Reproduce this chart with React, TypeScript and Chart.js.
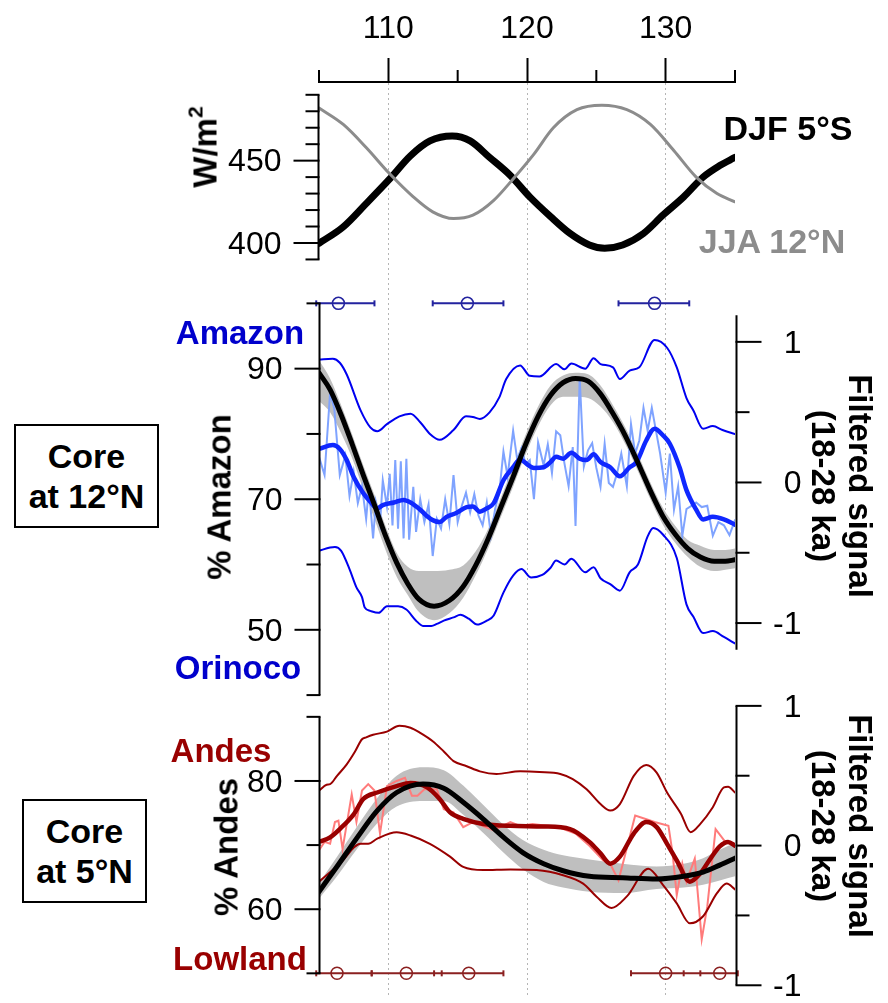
import React, { useEffect, useRef } from 'react';
import { Chart, registerables } from 'chart.js';
Chart.register(...registerables);

const FONT = '"Liberation Sans", Arial, Helvetica, sans-serif';

// ---------- x axis (age, ka) ----------
const xTickValues = [105, 110, 115, 120, 125, 130, 135];
const xLabelValues = [110, 120, 130];
const xMinorTicks = [105, 115, 125, 135];

// ---------- Panel 1: insolation (W/m2) ----------
const djfAge = [105, 106.75, 108.4, 110.1, 111.6, 113.0, 114.6, 115.9, 117.3, 118.8, 120.2, 121.7, 123.1, 124.5, 125.6, 126.9, 128.4, 129.8, 131.3, 132.7, 133.9, 135];
const djfWm2 = [399.8, 409.8, 423.9, 438.9, 453, 462, 465, 462, 452, 441, 428, 416, 405.8, 398.8, 396.8, 398.8, 405.8, 416.9, 428, 440, 447, 452];
const jjaAge = [105, 106.75, 108.4, 110.1, 111.8, 113.2, 114.7, 116.1, 117.6, 119.0, 120.5, 121.9, 123.6, 125.4, 127.2, 128.9, 130.6, 132.2, 133.7, 135];
const jjaWm2 = [482, 472, 458, 442, 428, 418.9, 414.8, 416.9, 425.9, 438.9, 454, 470, 481, 483.7, 481, 472, 456, 440, 430, 425];
const insTicks = [390, 400, 410, 420, 430, 440, 450, 460, 470, 480, 490];
const insLabels = [400, 450];

// ---------- Panel 2: core at 12N (% Amazon) ----------
const amUpAge = [105.0, 106.0, 106.5, 107.0, 108.0, 108.7, 109.2, 109.9, 110.8, 111.6, 112.3, 113.0, 113.7, 114.7, 115.6, 116.1, 116.6, 117.3, 118.0, 118.5, 119.5, 120.2, 120.9, 122.1, 122.7, 123.2, 124.2, 124.8, 125.3, 126.2, 126.7, 127.4, 128.1, 129.2, 130.1, 130.8, 131.5, 132.0, 132.7, 133.4, 134.1, 135.0];
const amUpPct = [91.4, 91.5, 90.9, 89.1, 83.6, 81.0, 80.4, 81.5, 82.7, 83.1, 81.8, 80.0, 79.1, 80.6, 82.7, 82.6, 82.3, 83.3, 85.6, 88.4, 90.5, 88.9, 88.8, 90.7, 89.9, 90.8, 90.0, 91.6, 90.7, 90.2, 88.4, 89.7, 90.2, 94.4, 93.2, 90.2, 85.5, 83.6, 80.8, 81.2, 80.6, 80.0];
const amLoAge = [105.0, 105.8, 106.15, 106.6, 107.2, 107.7, 108.1, 108.3, 108.7, 109.3, 109.9, 110.7, 111.3, 112.0, 112.5, 113.1, 113.5, 114.0, 114.7, 115.2, 115.8, 116.4, 117.1, 117.6, 118.3, 119.0, 119.6, 120.3, 121.1, 121.7, 122.1, 122.7, 123.2, 124.2, 124.8, 125.3, 126.0, 126.7, 127.4, 128.0, 128.7, 129.1, 129.8, 130.8, 131.5, 132.0, 132.7, 133.4, 134.2, 135.0];
const amLoPct = [62.1, 62.6, 62.7, 62.1, 59.3, 56.5, 55.0, 53.4, 52.9, 52.6, 53.6, 53.6, 53.1, 51.4, 50.6, 50.6, 50.9, 51.4, 51.9, 52.3, 51.7, 50.8, 51.4, 52.2, 55.7, 58.3, 59.3, 58.0, 58.4, 59.5, 60.6, 60.0, 60.9, 58.8, 59.6, 57.9, 57.0, 56.0, 58.8, 60.0, 64.3, 65.6, 64.6, 61.0, 53.9, 52.0, 49.5, 49.8, 48.9, 47.9];
const amMidAge = [105.0, 106.0, 106.5, 107.0, 107.5, 108.2, 108.7, 109.2, 109.6, 110.4, 111.1, 111.6, 112.3, 112.8, 113.2, 113.7, 114.2, 114.9, 115.65, 116.1, 116.6, 117.1, 117.6, 118.3, 119.0, 119.5, 120.1, 120.5, 121.2, 121.7, 122.1, 122.6, 123.2, 123.8, 124.3, 124.8, 125.3, 126.0, 126.7, 127.4, 127.9, 128.6, 129.2, 129.8, 130.3, 131.0, 131.5, 132.2, 132.7, 133.4, 134.2, 135.0];
const amMidPct = [77.7, 78.3, 77.7, 76.0, 73.4, 70.9, 69.6, 68.6, 69.1, 69.5, 69.9, 69.5, 68.4, 67.4, 66.8, 66.5, 67.3, 67.9, 68.8, 68.9, 68.1, 68.6, 69.4, 72.9, 74.9, 76.1, 75.2, 74.8, 74.9, 75.7, 76.5, 76.2, 77.1, 76.2, 76.0, 76.9, 75.7, 74.9, 73.5, 74.9, 75.7, 79.0, 80.8, 79.8, 78.5, 74.9, 71.4, 68.4, 66.9, 67.3, 66.9, 66.1];
const amRawAge = [105.0, 105.4, 105.8, 106.1, 106.5, 106.9, 107.2, 107.5, 107.8, 108.1, 108.4, 108.6, 108.9, 109.1, 109.4, 109.6, 109.9, 110.1, 110.3, 110.5, 110.7, 110.9, 111.1, 111.3, 111.5, 111.8, 112.0, 112.3, 112.6, 112.9, 113.2, 113.5, 113.8, 114.1, 114.4, 114.7, 115.0, 115.3, 115.6, 115.9, 116.2, 116.5, 116.8, 117.1, 117.4, 117.7, 118.0, 118.3, 118.6, 119.0, 119.3, 119.6, 119.9, 120.2, 120.5, 120.8, 121.2, 121.5, 121.8, 122.1, 122.4, 122.7, 123.0, 123.3, 123.5, 123.8, 124.1, 124.4, 124.7, 125.0, 125.3, 125.6, 125.9, 126.2, 126.5, 126.8, 127.2, 127.5, 127.8, 128.1, 128.4, 128.7, 129.0, 129.3, 129.6, 130.0, 130.3, 130.6, 130.9, 131.2, 131.5, 131.8, 132.2, 132.6, 133.0, 133.4, 133.8, 134.2, 134.6, 135.0];
const amRawPct = [76.5, 73.7, 86.3, 83.9, 73.7, 76.7, 70.5, 74.2, 69.4, 72.0, 67.0, 71.8, 64.0, 69.5, 66.2, 72.9, 68.9, 73.9, 66.0, 76.0, 65.5, 75.8, 64.0, 76.2, 63.8, 71.9, 65.0, 70.0, 66.5, 69.2, 61.3, 67.0, 65.5, 70.0, 66.2, 73.7, 66.5, 69.0, 71.0, 68.0, 70.8, 67.5, 66.0, 69.5, 64.5, 68.5, 71.0, 77.3, 73.5, 80.5, 76.0, 77.8, 75.4, 76.0, 70.0, 78.7, 75.2, 78.4, 74.0, 80.4, 79.8, 75.5, 72.0, 78.0, 65.9, 88.6, 75.0, 77.5, 78.6, 74.8, 71.9, 78.5, 72.5, 71.9, 74.0, 77.0, 72.0, 81.5, 77.0, 79.0, 84.0, 80.5, 84.0, 80.5, 77.0, 71.0, 77.0, 68.4, 72.0, 64.4, 68.5, 68.9, 69.5, 68.8, 69.0, 64.4, 66.5, 66.0, 64.5, 66.8];
const f1Age = [105.0, 105.8, 106.6, 107.4, 108.2, 109.0, 109.8, 110.6, 111.4, 112.2, 113.3, 114.4, 115.4, 116.3, 117.2, 118.1, 119.0, 119.9, 120.8, 121.7, 122.6, 123.5, 124.4, 125.3, 126.2, 127.1, 128.0, 128.9, 129.8, 130.7, 131.6, 132.5, 133.5, 134.3, 135.0];
const f1Val = [0.78, 0.66, 0.48, 0.27, 0.05, -0.16, -0.38, -0.57, -0.72, -0.83, -0.88, -0.84, -0.74, -0.59, -0.40, -0.18, 0.04, 0.27, 0.47, 0.62, 0.71, 0.74, 0.72, 0.63, 0.49, 0.33, 0.14, -0.06, -0.24, -0.37, -0.47, -0.53, -0.56, -0.56, -0.55];
const f1Hi = [0.87, 0.74, 0.55, 0.34, 0.12, -0.09, -0.31, -0.50, -0.60, -0.63, -0.63, -0.62, -0.59, -0.49, -0.33, -0.11, 0.11, 0.34, 0.54, 0.69, 0.76, 0.78, 0.77, 0.69, 0.55, 0.39, 0.20, 0.00, -0.18, -0.31, -0.41, -0.45, -0.48, -0.48, -0.47];
const f1Lo = [0.58, 0.50, 0.35, 0.17, -0.05, -0.26, -0.48, -0.67, -0.80, -0.92, -0.98, -0.93, -0.82, -0.66, -0.47, -0.25, -0.03, 0.20, 0.40, 0.55, 0.61, 0.61, 0.60, 0.54, 0.43, 0.27, 0.08, -0.12, -0.30, -0.43, -0.53, -0.60, -0.63, -0.62, -0.61];
const amErrAge = [106.4, 115.7, 129.2];
const amErrLo = [104.8, 113.2, 126.6];
const amErrHi = [109.0, 118.3, 131.7];
const amTicks = [40, 50, 60, 70, 80, 90, 100];
const amLabels = [50, 70, 90];

// ---------- Panel 3: core at 5N (% Andes) ----------
const anUpAge = [105.0, 105.55, 105.8, 106.3, 107.0, 107.6, 108.1, 108.4, 108.9, 109.9, 110.8, 111.6, 112.3, 113.2, 114.0, 114.7, 115.65, 116.6, 117.8, 119.5, 120.9, 122.4, 123.3, 124.3, 125.3, 126.0, 126.7, 127.7, 128.6, 129.35, 130.1, 131.1, 131.8, 132.5, 133.4, 134.2, 134.5, 135.0];
const anUpPct = [78.5, 79.4, 79.5, 80.8, 82.6, 84.6, 86.5, 86.8, 87.2, 87.7, 88.6, 88.3, 87.5, 86.2, 84.6, 83.1, 82.3, 81.5, 81.1, 81.5, 81.4, 81.1, 80.3, 78.7, 76.4, 75.4, 76.4, 80.8, 82.5, 81.3, 78.2, 74.9, 72.0, 73.3, 75.9, 79.0, 79.1, 78.2];
const anLoAge = [105.0, 106.5, 108.0, 108.55, 109.2, 110.6, 111.6, 113.0, 114.45, 115.4, 116.85, 118.8, 120.7, 122.6, 124.05, 125.0, 126.1, 127.2, 128.75, 129.8, 130.8, 131.75, 132.7, 133.7, 134.4, 135.0];
const anLoPct = [64.3, 67.1, 70.2, 70.2, 71.0, 72.0, 71.5, 70.2, 68.2, 66.6, 66.1, 66.2, 66.1, 65.3, 64.0, 62.0, 60.2, 62.0, 66.3, 63.8, 60.9, 57.8, 58.9, 62.5, 64.0, 63.1];
const anMidAge = [105.0, 105.8, 106.5, 107.5, 108.2, 109.2, 110.6, 111.6, 112.8, 113.7, 114.45, 115.4, 116.85, 118.8, 121.2, 123.1, 124.5, 125.3, 126.0, 126.7, 127.7, 128.6, 129.35, 130.1, 130.8, 131.75, 132.5, 133.2, 133.9, 134.5, 135.0];
const anMidPct = [70.5, 71.2, 72.5, 74.8, 77.2, 78.2, 79.2, 79.7, 79.0, 77.2, 75.1, 74.1, 73.3, 73.0, 72.9, 72.5, 70.5, 68.7, 67.1, 68.2, 71.8, 73.6, 72.8, 70.2, 67.6, 64.3, 65.6, 67.8, 69.8, 70.5, 69.9];
const anRawAge = [105.0, 105.4, 105.8, 106.15, 106.4, 106.7, 107.36, 107.7, 108.1, 108.55, 109.0, 109.4, 109.9, 110.6, 111.2, 111.7, 112.1, 112.6, 113.5, 114.0, 114.7, 115.4, 116.1, 116.8, 117.6, 118.8, 119.5, 120.4, 121.4, 122.4, 123.5, 124.5, 125.5, 126.0, 126.6, 127.1, 127.8, 128.5, 129.2, 130.2, 130.5, 130.8, 131.2, 131.5, 132.1, 132.6, 133.0, 133.6, 134.3, 135.0];
const anRawPct = [69.2, 70.5, 70.2, 73.6, 73.8, 69.4, 77.9, 73.6, 78.5, 79.5, 78.5, 71.8, 79.2, 80.0, 80.5, 77.7, 77.7, 78.7, 78.7, 75.6, 75.1, 72.8, 73.6, 73.0, 72.3, 73.6, 73.0, 73.3, 73.0, 72.7, 71.8, 69.9, 67.6, 67.1, 64.5, 68.7, 74.6, 74.1, 73.6, 73.0, 68.7, 62.2, 67.1, 64.3, 67.9, 55.3, 60.4, 72.5, 70.5, 70.2];
const f2Age = [105.0, 106.3, 107.7, 109.2, 110.6, 112.5, 114.0, 115.4, 116.85, 118.3, 119.7, 121.2, 122.6, 124.5, 126.9, 129.35, 131.3, 132.7, 133.9, 135.0];
const f2Val = [-0.33, -0.15, 0.05, 0.25, 0.38, 0.44, 0.41, 0.31, 0.19, 0.06, -0.05, -0.13, -0.18, -0.22, -0.23, -0.24, -0.22, -0.19, -0.14, -0.09];
const f2Hi = [-0.27, -0.08, 0.13, 0.34, 0.50, 0.56, 0.54, 0.43, 0.29, 0.15, 0.04, -0.03, -0.07, -0.10, -0.13, -0.15, -0.13, -0.09, -0.03, 0.02];
const f2Lo = [-0.38, -0.22, -0.03, 0.16, 0.28, 0.32, 0.32, 0.22, 0.09, -0.05, -0.17, -0.26, -0.30, -0.33, -0.34, -0.31, -0.30, -0.28, -0.25, -0.22];
const anErrAge = [106.3, 111.3, 115.8, 130.0, 133.9];
const anErrLo = [104.8, 108.8, 113.3, 127.5, 131.3];
const anErrHi = [108.8, 113.85, 118.3, 132.5, 135.2];
const anTicks = [50, 60, 70, 80, 90];
const anLabels = [60, 80];

const filtTicks = [-1, -0.5, 0, 0.5, 1];
const filtLabels = [-1, 0, 1];

// ---------- layout helpers ----------
const AREA_TOP = 82;
const AREA_BOTTOM = 1003;
function fitRange(vTop: number, pTop: number, vBot: number, pBot: number) {
  const k = (vTop - vBot) / (pBot - pTop);
  return { min: vBot - (AREA_BOTTOM - pBot) * k, max: vTop + (pTop - AREA_TOP) * k };
}
const rIns = fitRange(450, 161.3, 400, 244.3);
const rAm = fitRange(90, 371, 50, 634.3);
const rF1 = fitRange(1, 344, -1, 627.5);
const rAn = fitRange(80, 786.7, 60, 916);
const rF2 = fitRange(1, 711, -1, 992.7);

const pts = (xs: number[], ys: number[]) => xs.map((x, i) => ({ x, y: ys[i] }));

function lineDs(xs: number[], ys: number[], yAxisID: string, color: string, width: number, order: number, extra: any = {}) {
  return {
    data: pts(xs, ys), yAxisID, borderColor: color, backgroundColor: color, borderWidth: width,
    pointRadius: 0, pointHoverRadius: 0, fill: false, order, cubicInterpolationMode: 'monotone',
    borderCapStyle: 'round', borderJoinStyle: 'round', ...extra,
  };
}
function bandDs(xs: number[], hi: number[], lo: number[], yAxisID: string, color: string, order: number) {
  return [
    { data: pts(xs, hi), yAxisID, borderColor: 'rgba(0,0,0,0)', borderWidth: 1, pointRadius: 0, fill: false, order, cubicInterpolationMode: 'monotone' },
    { data: pts(xs, lo), yAxisID, borderColor: 'rgba(0,0,0,0)', backgroundColor: color, borderWidth: 1, pointRadius: 0, fill: '-1', order, cubicInterpolationMode: 'monotone' },
  ];
}
function errDs(c: number[], lo: number[], hi: number[], yAxisID: string, yVal: number, color: string, order: number) {
  const seg: any[] = [];
  c.forEach((_, i) => { seg.push({ x: lo[i], y: yVal }, { x: hi[i], y: yVal }, { x: hi[i], y: null }); });
  return [
    { data: seg, yAxisID, borderColor: color, backgroundColor: color, borderWidth: 2, pointStyle: 'line', rotation: 90, pointRadius: 3, pointBorderWidth: 2, pointBorderColor: color, spanGaps: false, fill: false, order, clip: false, tension: 0 },
    { data: c.map((x) => ({ x, y: yVal })), yAxisID, showLine: false, pointStyle: 'circle', pointRadius: 6, pointBorderWidth: 1.5, pointBorderColor: color, pointBackgroundColor: 'rgba(0,0,0,0)', borderColor: color, backgroundColor: 'rgba(0,0,0,0)', order: order - 1, clip: false },
  ];
}

const BLUE_THIN = '#0000f0';
const BLUE_THICK = '#1028ff';
const BLUE_RAW = '#7fa3ff';
const BLUE_ERR = '#23239f';
const RED = '#990000';
const RED_RAW = '#ff7b7b';
const RED_ERR = '#8b2020';
const GRAY_LINE = '#8c8c8c';
const GRAY_BAND = '#bfbfbf';

const AXES = [
  { id: 'yIns', side: 'left', dx: -0.5, from: 390, to: 490, ticks: insTicks, labels: insLabels },
  { id: 'yAm', side: 'left', dx: 0.5, from: 40, to: 100, ticks: amTicks, labels: amLabels },
  { id: 'yF1', side: 'right', dx: 1.5, from: -1.19, to: 1.19, ticks: filtTicks, labels: filtLabels },
  { id: 'yAn', side: 'left', dx: 0.5, from: 50, to: 90, ticks: anTicks, labels: anLabels },
  { id: 'yF2', side: 'right', dx: 1.5, from: -1, to: 1, ticks: filtTicks, labels: filtLabels },
];

const axesPlugin = {
  id: 'panelAxes',
  afterDraw(chart: any) {
    const { ctx, chartArea, scales } = chart;
    ctx.save();
    ctx.strokeStyle = '#000';
    ctx.fillStyle = '#000';
    ctx.lineWidth = 2;
    ctx.lineCap = 'butt';
    const seg = (x1: number, y1: number, x2: number, y2: number) => { ctx.beginPath(); ctx.moveTo(x1, y1); ctx.lineTo(x2, y2); ctx.stroke(); };
    for (const v of xMinorTicks) {
      const px = scales.x.getPixelForValue(v);
      seg(px, chartArea.top, px, chartArea.top - 12);
    }
    ctx.font = `32px ${FONT}`;
    ctx.textBaseline = 'middle';
    ctx.textAlign = 'right';
    for (const ax of AXES) {
      const s = scales[ax.id];
      const x = ax.side === 'left' ? chartArea.left + ax.dx : chartArea.right + ax.dx;
      const dir = ax.side === 'left' ? -1 : 1;
      seg(x, s.getPixelForValue(ax.from), x, s.getPixelForValue(ax.to));
      for (const v of ax.ticks) {
        const y = s.getPixelForValue(v);
        const len = ax.labels.includes(v) ? 25 : 13;
        seg(x - dir, y, x + dir * len, y);
      }
      for (const v of ax.labels) {
        const y = s.getPixelForValue(v);
        const lx = ax.side === 'left' ? x - 37 : x + 65;
        ctx.fillText(String(v), lx, y + 2);
      }
    }
    ctx.restore();
  },
};

function Lbl(props: { x: number; y: number; rot?: number; color?: string; size?: number; bold?: boolean; children: any }) {
  const { x, y, rot = 0, color = '#000', size = 33, bold = true, children } = props;
  return (
    <div style={{
      position: 'absolute', left: x, top: y, transform: `translate(-50%, -50%) rotate(${rot}deg)`,
      whiteSpace: 'nowrap', color, fontSize: size, fontWeight: bold ? 700 : 400, lineHeight: 1, fontFamily: FONT,
    }}>{children}</div>
  );
}

function Box(props: { x: number; y: number; w: number; h: number; children: any }) {
  const { x, y, w, h, children } = props;
  return (
    <div style={{
      position: 'absolute', left: x, top: y, width: w, height: h, boxSizing: 'border-box', border: '2px solid #000',
      display: 'flex', alignItems: 'center', justifyContent: 'center', textAlign: 'center',
      fontFamily: FONT, fontWeight: 700, fontSize: 34, lineHeight: 1.18, background: '#fff',
    }}>{children}</div>
  );
}

export default function App() {
  const ref = useRef<HTMLCanvasElement>(null);
  useEffect(() => {
    const datasets: any[] = [
      // panel 1
      lineDs(djfAge, djfWm2, 'yIns', '#000', 7, 61),
      lineDs(jjaAge, jjaWm2, 'yIns', GRAY_LINE, 3, 60),
      // panel 2
      ...bandDs(f1Age, f1Hi, f1Lo, 'yF1', GRAY_BAND, 100),
      lineDs(amRawAge, amRawPct, 'yAm', BLUE_RAW, 2, 90, { cubicInterpolationMode: 'default', tension: 0, borderJoinStyle: 'miter' }),
      lineDs(amUpAge, amUpPct, 'yAm', BLUE_THIN, 2, 80),
      lineDs(amLoAge, amLoPct, 'yAm', BLUE_THIN, 2, 80),
      lineDs(amMidAge, amMidPct, 'yAm', BLUE_THICK, 4.5, 70),
      lineDs(f1Age, f1Val, 'yF1', '#000', 5, 65),
      ...errDs(amErrAge, amErrLo, amErrHi, 'yAm', 100, BLUE_ERR, 50),
      // panel 3
      ...bandDs(f2Age, f2Hi, f2Lo, 'yF2', GRAY_BAND, 100),
      lineDs(anRawAge, anRawPct, 'yAn', RED_RAW, 2, 90, { cubicInterpolationMode: 'default', tension: 0, borderJoinStyle: 'miter' }),
      lineDs(anUpAge, anUpPct, 'yAn', RED, 2, 80),
      lineDs(anLoAge, anLoPct, 'yAn', RED, 2, 80),
      lineDs(anMidAge, anMidPct, 'yAn', RED, 4.5, 70),
      lineDs(f2Age, f2Val, 'yF2', '#000', 5, 65),
      ...errDs(anErrAge, anErrLo, anErrHi, 'yAn', 50, RED_ERR, 50),
    ];
    const chart = new Chart(ref.current as HTMLCanvasElement, {
      type: 'line',
      data: { datasets },
      options: {
        animation: false,
        responsive: false,
        devicePixelRatio: 1,
        events: [],
        layout: { padding: { left: 319, right: 153, top: 0, bottom: 0 } },
        plugins: { legend: { display: false }, tooltip: { enabled: false } },
        scales: {
          x: {
            type: 'linear', position: 'top', min: 105, max: 135,
            afterBuildTicks: (s: any) => { s.ticks = xTickValues.map((v) => ({ value: v })); },
            afterFit: (s: any) => { s.height = AREA_TOP; },
            ticks: {
              autoSkip: false, maxRotation: 0, padding: 10, color: '#000',
              font: { family: FONT, size: 32 },
              callback: (v: any) => (xLabelValues.includes(Number(v)) ? String(v) : ''),
            },
            grid: {
              drawOnChartArea: true, drawTicks: true, tickLength: 24, lineWidth: 1, tickWidth: 2,
              color: (c: any) => (c.tick && xLabelValues.includes(c.tick.value) ? '#b5b5b5' : 'rgba(0,0,0,0)'),
              tickColor: (c: any) => (c.tick && xLabelValues.includes(c.tick.value) ? '#000' : 'rgba(0,0,0,0)'),
            },
            border: { display: true, color: '#000', width: 2, dash: [2, 3] },
          },
          yIns: { type: 'linear', display: false, min: rIns.min, max: rIns.max },
          yAm: { type: 'linear', display: false, min: rAm.min, max: rAm.max },
          yF1: { type: 'linear', display: false, min: rF1.min, max: rF1.max },
          yAn: { type: 'linear', display: false, min: rAn.min, max: rAn.max },
          yF2: { type: 'linear', display: false, min: rF2.min, max: rF2.max },
        },
      } as any,
      plugins: [axesPlugin],
    });
    return () => chart.destroy();
  }, []);

  return (
    <div style={{ position: 'absolute', left: 0, top: 0, width: 888, height: 1003, background: '#fff', overflow: 'hidden' }}>
      <canvas ref={ref} width={888} height={1003} style={{ position: 'absolute', left: 0, top: 0, display: 'block' }} />
      {/* panel 1 labels */}
      <Lbl x={205} y={147} rot={-90}>W/m<span style={{ fontSize: 21, position: 'relative', top: -14 }}>2</span></Lbl>
      <Lbl x={788} y={128} size={34}>DJF 5°S</Lbl>
      <Lbl x={772} y={241} size={34} color={GRAY_LINE}>JJA 12°N</Lbl>
      {/* panel 2 labels */}
      <Box x={14} y={424} w={145} h={104}>Core<br />at 12°N</Box>
      <Lbl x={240} y={332} color="#0000cc">Amazon</Lbl>
      <Lbl x={238} y={667} color="#0000cc">Orinoco</Lbl>
      <Lbl x={219} y={497} rot={-90}>% Amazon</Lbl>
      <Lbl x={860} y={486} rot={90}>Filtered signal</Lbl>
      <Lbl x={823} y={486} rot={90}>(18-28 ka)</Lbl>
      {/* panel 3 labels */}
      <Box x={22} y={799} w={125} h={104}>Core<br />at 5°N</Box>
      <Lbl x={221} y={750} color={RED}>Andes</Lbl>
      <Lbl x={240} y={958} color={RED}>Lowland</Lbl>
      <Lbl x={226} y={847} rot={-90}>% Andes</Lbl>
      <Lbl x={860} y={826} rot={90}>Filtered signal</Lbl>
      <Lbl x={823} y={826} rot={90}>(18-28 ka)</Lbl>
    </div>
  );
}
